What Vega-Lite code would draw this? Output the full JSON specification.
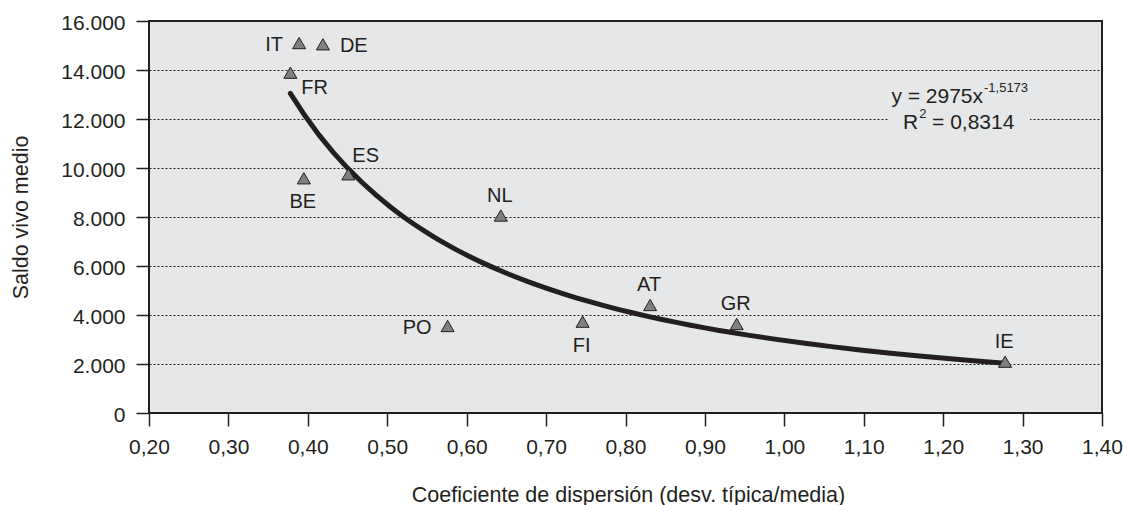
{
  "$schema": "https://vega.github.io/schema/vega-lite/v6.json",
  "width": 953,
  "height": 392,
  "autosize": {"type": "none"},
  "padding": {"left": 149, "top": 21, "right": 21, "bottom": 92},
  "background": "white",
  "config": {
    "locale": {"number": {"decimal": ",", "thousands": ".", "grouping": [3], "currency": ["", " €"]}},
    "font": "Liberation Sans",
    "view": {"fill": "#e6e7e8", "stroke": "#231f20", "strokeWidth": 2},
    "axis": {
      "labelFont": "Liberation Sans",
      "labelFontSize": 21,
      "labelColor": "#231f20",
      "titleFont": "Liberation Sans",
      "titleFontSize": 21.5,
      "titleFontWeight": "normal",
      "titleColor": "#231f20",
      "tickColor": "#231f20",
      "tickWidth": 1.5,
      "tickSize": 13,
      "domain": false,
      "labelFlush": false,
      "labelOverlap": false
    },
    "text": {"font": "Liberation Sans", "fontSize": 20, "fill": "#231f20"}
  },
  "datasets": {
    "paises": [
      {"pais": "IT", "coef": 0.389, "saldo": 15100},
      {"pais": "DE", "coef": 0.419, "saldo": 15050},
      {"pais": "FR", "coef": 0.378, "saldo": 13890},
      {"pais": "ES", "coef": 0.451, "saldo": 9743},
      {"pais": "BE", "coef": 0.395, "saldo": 9580},
      {"pais": "NL", "coef": 0.643, "saldo": 8060},
      {"pais": "PO", "coef": 0.576, "saldo": 3551},
      {"pais": "FI", "coef": 0.746, "saldo": 3727},
      {"pais": "AT", "coef": 0.831, "saldo": 4408},
      {"pais": "GR", "coef": 0.940, "saldo": 3633},
      {"pais": "IE", "coef": 1.278, "saldo": 2094}
    ]
  },
  "layer": [
    {
      "data": {"name": "paises"},
      "transform": [
        {"regression": "saldo", "on": "coef", "method": "pow", "extent": [0.378, 1.278]}
      ],
      "mark": {"type": "line", "stroke": "#231f20", "strokeWidth": 5, "strokeCap": "round"},
      "encoding": {
        "x": {
          "field": "coef",
          "type": "quantitative",
          "scale": {"domain": [0.2, 1.4], "nice": false, "zero": false},
          "axis": {
            "title": "Coeficiente de dispersión (desv. típica/media)",
            "values": [0.2, 0.3, 0.4, 0.5, 0.6, 0.7, 0.8, 0.9, 1.0, 1.1, 1.2, 1.3, 1.4],
            "format": ".2f",
            "grid": false,
            "labelBaseline": "alphabetic",
            "labelPadding": 27,
            "titleX": 479,
            "titleY": 88,
            "titleAlign": "center",
            "titleBaseline": "alphabetic"
          }
        },
        "y": {
          "field": "saldo",
          "type": "quantitative",
          "scale": {"domain": [0, 16000], "nice": false},
          "axis": {
            "title": "Saldo vivo medio",
            "values": [0, 2000, 4000, 6000, 8000, 10000, 12000, 14000, 16000],
            "format": ",.0f",
            "grid": true,
            "gridColor": "#231f20",
            "gridDash": [2, 2],
            "gridWidth": 1.2,
            "labelPadding": 11,
            "labelBaseline": "middle",
            "labelOffset": 2,
            "titleX": -128,
            "titleY": 196,
            "titleAngle": 270,
            "titleAlign": "center",
            "titleBaseline": "middle"
          }
        }
      }
    },
    {
      "data": {"values": [{"caja": "R2"}]},
      "mark": {"type": "rect", "fill": "#e6e7e8"},
      "encoding": {
        "x": {"datum": 1.1305, "type": "quantitative"},
        "x2": {"datum": 1.3093},
        "y": {"datum": 11347, "type": "quantitative"},
        "y2": {"datum": 13510}
      }
    },
    {
      "data": {"name": "paises"},
      "mark": {"type": "point", "shape": "triangle-up", "size": 170, "filled": true, "fill": "#808080", "stroke": "#231f20", "strokeWidth": 1, "opacity": 1},
      "encoding": {
        "x": {"field": "coef", "type": "quantitative"},
        "y": {"field": "saldo", "type": "quantitative"}
      }
    },
    {
      "data": {"name": "paises"},
      "transform": [{"filter": {"field": "pais", "oneOf": ["IT", "PO"]}}],
      "mark": {"type": "text", "align": "right", "baseline": "alphabetic", "dx": -16, "dy": 8},
      "encoding": {
        "x": {"field": "coef", "type": "quantitative"},
        "y": {"field": "saldo", "type": "quantitative"},
        "text": {"field": "pais"}
      }
    },
    {
      "data": {"name": "paises"},
      "transform": [{"filter": {"field": "pais", "oneOf": ["DE"]}}],
      "mark": {"type": "text", "align": "left", "baseline": "alphabetic", "dx": 17, "dy": 8},
      "encoding": {
        "x": {"field": "coef", "type": "quantitative"},
        "y": {"field": "saldo", "type": "quantitative"},
        "text": {"field": "pais"}
      }
    },
    {
      "data": {"name": "paises"},
      "transform": [{"filter": {"field": "pais", "oneOf": ["FR"]}}],
      "mark": {"type": "text", "align": "left", "baseline": "alphabetic", "dx": 11, "dy": 21},
      "encoding": {
        "x": {"field": "coef", "type": "quantitative"},
        "y": {"field": "saldo", "type": "quantitative"},
        "text": {"field": "pais"}
      }
    },
    {
      "data": {"name": "paises"},
      "transform": [{"filter": {"field": "pais", "oneOf": ["ES"]}}],
      "mark": {"type": "text", "align": "left", "baseline": "alphabetic", "dx": 4, "dy": -12},
      "encoding": {
        "x": {"field": "coef", "type": "quantitative"},
        "y": {"field": "saldo", "type": "quantitative"},
        "text": {"field": "pais"}
      }
    },
    {
      "data": {"name": "paises"},
      "transform": [{"filter": {"field": "pais", "oneOf": ["BE", "FI"]}}],
      "mark": {"type": "text", "align": "center", "baseline": "alphabetic", "dx": -1, "dy": 30},
      "encoding": {
        "x": {"field": "coef", "type": "quantitative"},
        "y": {"field": "saldo", "type": "quantitative"},
        "text": {"field": "pais"}
      }
    },
    {
      "data": {"name": "paises"},
      "transform": [{"filter": {"field": "pais", "oneOf": ["NL", "AT", "GR", "IE"]}}],
      "mark": {"type": "text", "align": "center", "baseline": "alphabetic", "dx": -1, "dy": -14},
      "encoding": {
        "x": {"field": "coef", "type": "quantitative"},
        "y": {"field": "saldo", "type": "quantitative"},
        "text": {"field": "pais"}
      }
    },
    {
      "data": {"values": [{"texto": "y = 2975x"}]},
      "mark": {"type": "text", "align": "right", "baseline": "alphabetic", "fontSize": 21},
      "encoding": {
        "x": {"datum": 1.2502, "type": "quantitative"},
        "y": {"datum": 12653, "type": "quantitative"},
        "text": {"field": "texto"}
      }
    },
    {
      "data": {"values": [{"texto": "-1,5173"}]},
      "mark": {"type": "text", "align": "left", "baseline": "alphabetic", "fontSize": 13},
      "encoding": {
        "x": {"datum": 1.2514, "type": "quantitative"},
        "y": {"datum": 13114, "type": "quantitative"},
        "text": {"field": "texto"}
      }
    },
    {
      "data": {"values": [{"texto": "R"}]},
      "mark": {"type": "text", "align": "left", "baseline": "alphabetic", "fontSize": 21},
      "encoding": {
        "x": {"datum": 1.1495, "type": "quantitative"},
        "y": {"datum": 11592, "type": "quantitative"},
        "text": {"field": "texto"}
      }
    },
    {
      "data": {"values": [{"texto": "2"}]},
      "mark": {"type": "text", "align": "left", "baseline": "alphabetic", "fontSize": 13},
      "encoding": {
        "x": {"datum": 1.1700, "type": "quantitative"},
        "y": {"datum": 12029, "type": "quantitative"},
        "text": {"field": "texto"}
      }
    },
    {
      "data": {"values": [{"texto": "= 0,8314"}]},
      "mark": {"type": "text", "align": "left", "baseline": "alphabetic", "fontSize": 21},
      "encoding": {
        "x": {"datum": 1.1860, "type": "quantitative"},
        "y": {"datum": 11592, "type": "quantitative"},
        "text": {"field": "texto"}
      }
    }
  ]
}
